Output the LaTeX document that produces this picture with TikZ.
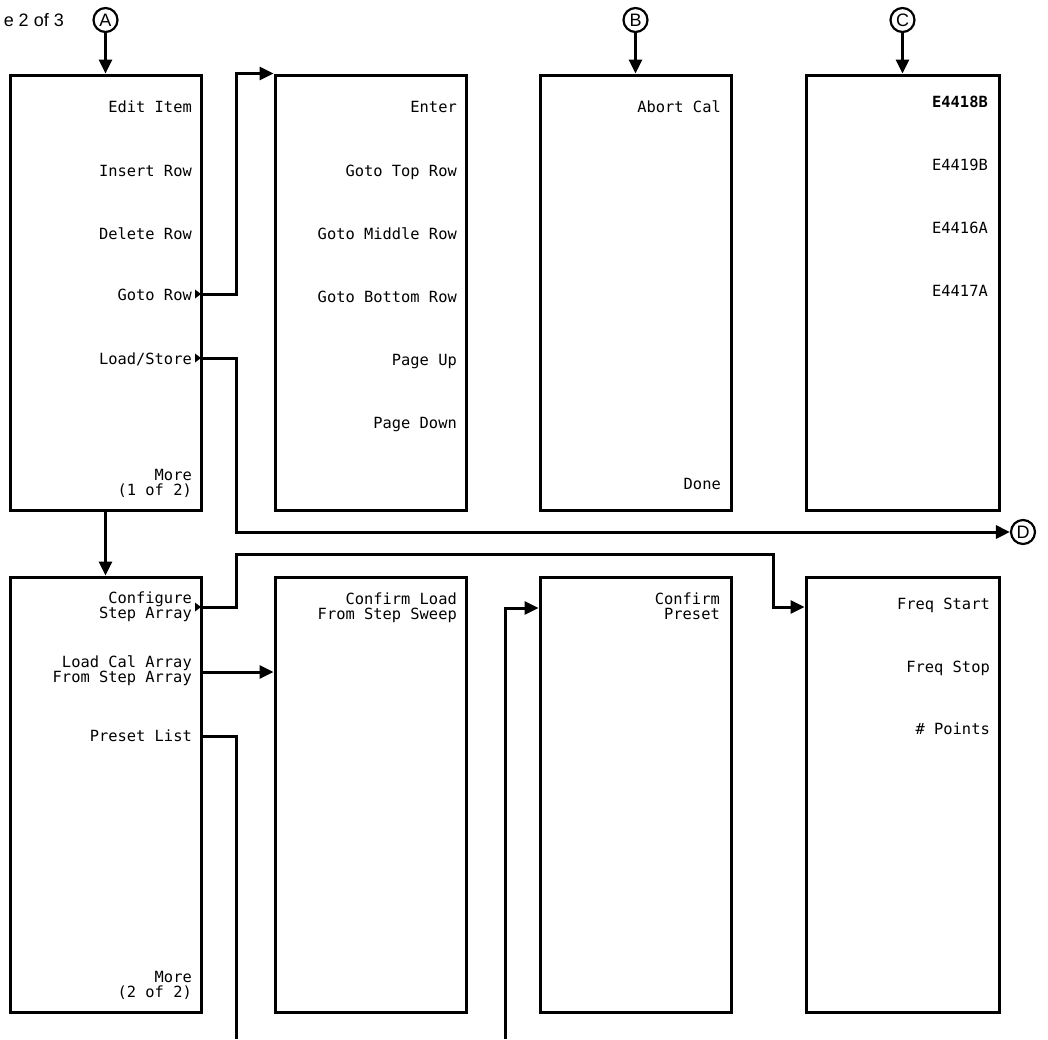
\documentclass[tikz,border=0pt]{standalone}
\usepackage{fontspec}
\setmainfont{Liberation Sans}
\newfontfamily\menufont{DejaVu Sans Mono}
\usetikzlibrary{arrows.meta,calc}
\begin{document}
\begin{tikzpicture}[x=1pt,y=-1pt,
  menu/.style={draw,line width=3pt,minimum width=191pt,minimum height=435pt,inner sep=0pt},
  item/.style={inner sep=0pt,font=\menufont\fontsize{15.4}{15}\selectfont,align=right},
  conn/.style={line width=3pt},
  arr/.style={conn,-{Triangle[length=14pt,width=13pt]}},
  letter/.style={circle,draw,line width=2.2pt,minimum size=24pt,inner sep=0pt,font=\fontsize{18}{18}\selectfont},
  menumark/.style={fill=black}
]
\useasboundingbox (0,0) rectangle (1048,1039);

% menu boxes
\node[menu] (m1) at (105.5,292.5) {};
\node[menu] (m2) at (370.5,292.5) {};
\node[menu] (m3) at (635.5,292.5) {};
\node[menu,minimum width=193pt] (m4) at (902.5,292.5) {};
\node[menu] (m5) at (105.5,794.5) {};
\node[menu] (m6) at (370.5,794.5) {};
\node[menu] (m7) at (635.5,794.5) {};
\node[menu,minimum width=193pt] (m8) at (902.5,794.5) {};

% page label and connector letters
\node[anchor=east,inner sep=0pt,font=\fontsize{18}{18}\selectfont] (page) at (64,20) {e 2 of 3};
\node[letter] (A) at (105.5,20) {A};
\node[letter] (B) at (635.5,20) {B};
\node[letter] (C) at (902.5,20) {C};
\node[letter] (D) at (1023,532) {D};

% box 1
\node[item,anchor=base east] (i11) at (192,112) {Edit Item};
\node[item,anchor=base east] (i12) at (192,176) {Insert Row};
\node[item,anchor=base east] (i13) at (192,239) {Delete Row};
\node[item,anchor=base east] (i14) at (192,300) {Goto Row};
\node[item,anchor=base east] (i15) at (192,364) {Load/Store};
\node[item,anchor=north east] (i16) at (192,469) {More\\(1 of 2)};
% box 2
\node[item,anchor=base east] (i21) at (457,112) {Enter};
\node[item,anchor=base east] (i22) at (457,176) {Goto Top Row};
\node[item,anchor=base east] (i23) at (457,239) {Goto Middle Row};
\node[item,anchor=base east] (i24) at (457,302) {Goto Bottom Row};
\node[item,anchor=base east] (i25) at (457,365) {Page Up};
\node[item,anchor=base east] (i26) at (457,428) {Page Down};
% box 3
\node[item,anchor=base east] (i31) at (721,112) {Abort Cal};
\node[item,anchor=base east] (i32) at (721,489) {Done};
% box 4
\node[item,anchor=base east,font=\menufont\bfseries\fontsize{15.4}{15}\selectfont] (i41) at (988,107) {E4418B};
\node[item,anchor=base east] (i42) at (988,170) {E4419B};
\node[item,anchor=base east] (i43) at (988,233) {E4416A};
\node[item,anchor=base east] (i44) at (988,296) {E4417A};
% box 5
\node[item,anchor=north east] (i51) at (192,592) {Configure\\Step Array};
\node[item,anchor=north east] (i52) at (192,656) {Load Cal Array\\From Step Array};
\node[item,anchor=base east] (i53) at (192,741) {Preset List};
\node[item,anchor=north east] (i54) at (192,971) {More\\(2 of 2)};
% box 6
\node[item,anchor=north east] (i61) at (457,593) {Confirm Load\\From Step Sweep};
% box 7
\node[item,anchor=north east] (i71) at (720,593) {Confirm\\Preset};
% box 8
\node[item,anchor=base east] (i81) at (990,609) {Freq Start};
\node[item,anchor=base east] (i82) at (990,672) {Freq Stop};
\node[item,anchor=base east] (i83) at (990,734) {\# Points};

% helper coordinates
\coordinate (yGoto) at (0,294);
\coordinate (yLoad) at (0,358);
\coordinate (yCfg) at (0,607);
\coordinate (yCal) at (0,672);
\coordinate (yPre) at (0,736);
\coordinate (yPreset) at (0,608);
\coordinate (yD) at (0,532);
\coordinate (yTop) at (0,554);
\coordinate (x1) at (236,0);
\coordinate (x2) at (773,0);
\coordinate (x3) at (505,0);
\coordinate (bot) at (0,1039);

% connectors
\draw[arr] (A) -- (m1.north);
\draw[arr] (B) -- (m3.north);
\draw[arr] (C) -- (m4.north);
\draw[arr] (m1.south) -- (m5.north);
\draw[arr] (m1.east |- yGoto) -| (x1 |- m2.north) -- (m2.north west);
\draw[arr] (m1.east |- yLoad) -| (x1 |- yD) -- (D);
\draw[arr] (m5.east |- yCfg) -| (x1 |- yTop) -| (x2 |- yCfg) -- (m8.west |- yCfg);
\draw[arr] (m5.east |- yCal) -- (m6.west |- yCal);
\draw[conn] (m5.east |- yPre) -| (x1 |- bot);
\draw[arr] (x3 |- bot) |- (m7.west |- yPreset);

% submenu markers
\fill[menumark] (m1.east |- yGoto) ++(-1.5,0) -- ++(-6,-4.5) -- ++(0,9) -- cycle;
\fill[menumark] (m1.east |- yLoad) ++(-1.5,0) -- ++(-6,-4.5) -- ++(0,9) -- cycle;
\fill[menumark] (m5.east |- yCfg) ++(-1.5,0) -- ++(-6,-4.5) -- ++(0,9) -- cycle;
\end{tikzpicture}
\end{document}
